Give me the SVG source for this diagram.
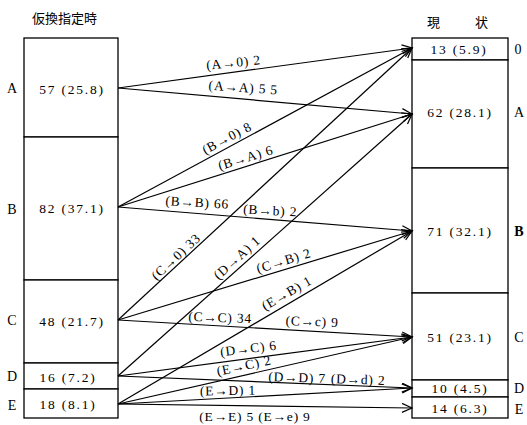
<svg xmlns="http://www.w3.org/2000/svg" width="527" height="425" viewBox="0 0 527 425">
<style>
.box{fill:#fff;stroke:#000;stroke-width:1.3}
.val{font-family:"Liberation Serif",serif;font-size:13.5px;letter-spacing:1.8px;text-anchor:middle;fill:#000}
.lab{font-family:"Liberation Serif",serif;font-size:14px;text-anchor:middle;fill:#000}
.hdr{font-family:"Noto Sans CJK JP",sans-serif;font-size:13px;fill:#000}
.cn{stroke:#000;stroke-width:1.2;fill:none;marker-end:url(#ah)}
.cl{font-family:"Liberation Serif",serif;font-size:13.5px;letter-spacing:0.8px;fill:#000;text-anchor:middle}
</style>
<defs>
<marker id="ah" markerUnits="userSpaceOnUse" markerWidth="14" markerHeight="12" refX="11" refY="5" orient="auto">
<path d="M1,0.5 L11,5 L1,9.5" fill="none" stroke="#000" stroke-width="1.2"/>
</marker>
</defs>
<rect width="527" height="425" fill="#fff"/>
<text class="hdr" x="32" y="23">仮換指定時</text>
<text class="hdr" x="427" y="27" font-size="14" letter-spacing="3">現　　状</text>

<g id="left-A"><rect class="box" x="24" y="38" width="94" height="99"/><text class="lab" x="12" y="93">A</text><text class="val" x="72" y="93.5">57 (25.8)</text></g>
<g id="left-B"><rect class="box" x="24" y="137" width="94" height="143"/><text class="lab" x="12" y="214">B</text><text class="val" x="72" y="212.5">82 (37.1)</text></g>
<g id="left-C"><rect class="box" x="24" y="280" width="94" height="83"/><text class="lab" x="12" y="325">C</text><text class="val" x="72" y="325.5">48 (21.7)</text></g>
<g id="left-D"><rect class="box" x="24" y="363" width="94" height="26"/><text class="lab" x="12" y="381">D</text><text class="val" x="68" y="381.5">16 (7.2)</text></g>
<g id="left-E"><rect class="box" x="24" y="389" width="94" height="29"/><text class="lab" x="12" y="410">E</text><text class="val" x="68" y="409">18 (8.1)</text></g>

<g id="right-0"><rect class="box" x="412" y="38" width="96" height="22"/><text class="lab" x="518" y="54">0</text><text class="val" x="459" y="54">13 (5.9)</text></g>
<g id="right-A"><rect class="box" x="412" y="60" width="96" height="108"/><text class="lab" x="519" y="117">A</text><text class="val" x="460" y="116.5">62 (28.1)</text></g>
<g id="right-B"><rect class="box" x="412" y="168" width="96" height="125"/><text class="lab" x="519" y="236" font-weight="bold">B</text><text class="val" x="460" y="235.5">71 (32.1)</text></g>
<g id="right-C"><rect class="box" x="412" y="293" width="96" height="87"/><text class="lab" x="519" y="342">C</text><text class="val" x="460" y="341.5">51 (23.1)</text></g>
<g id="right-D"><rect class="box" x="412" y="380" width="96" height="17"/><text class="lab" x="519" y="393">D</text><text class="val" x="460" y="393">10 (4.5)</text></g>
<g id="right-E"><rect class="box" x="412" y="397" width="96" height="21"/><text class="lab" x="519" y="414">E</text><text class="val" x="460" y="412.5">14 (6.3)</text></g>

<g id="connectors">
<line class="cn" x1="118" y1="88" x2="412" y2="48"/>
<line class="cn" x1="118" y1="88" x2="412" y2="114"/>
<line class="cn" x1="118" y1="207" x2="412" y2="48"/>
<line class="cn" x1="118" y1="207" x2="412" y2="114"/>
<line class="cn" x1="118" y1="207" x2="412" y2="231"/>
<line class="cn" x1="118" y1="320" x2="412" y2="48"/>
<line class="cn" x1="118" y1="320" x2="412" y2="231"/>
<line class="cn" x1="118" y1="320" x2="412" y2="337"/>
<line class="cn" x1="118" y1="376" x2="412" y2="114"/>
<line class="cn" x1="118" y1="376" x2="412" y2="337"/>
<line class="cn" x1="118" y1="376" x2="412" y2="388"/>
<line class="cn" x1="118" y1="404" x2="412" y2="231"/>
<line class="cn" x1="118" y1="404" x2="412" y2="337"/>
<line class="cn" x1="118" y1="404" x2="412" y2="388"/>
<line class="cn" x1="118" y1="404" x2="412" y2="408"/>

<text class="cl" transform="translate(234,67) rotate(-6)">(A→0)  2</text>
<text class="cl" transform="translate(243,92) rotate(4)">(A→A)  5 5</text>
<text class="cl" transform="translate(229,142) rotate(-28)">(B→0)  8</text>
<text class="cl" transform="translate(247,162) rotate(-17)">(B→A)  6</text>
<text class="cl" transform="translate(197,207) rotate(3)">(B→B)  66</text>
<text class="cl" transform="translate(270,215) rotate(3)">(B→b) 2</text>
<text class="cl" transform="translate(179,260) rotate(-43)">(C→0)  33</text>
<text class="cl" transform="translate(240,261) rotate(-42)">(D→A)  1</text>
<text class="cl" transform="translate(285,265) rotate(-17)">(C→B)  2</text>
<text class="cl" transform="translate(289,297) rotate(-30)">(E→B)  1</text>
<text class="cl" transform="translate(220,322) rotate(2)">(C→C) 34</text>
<text class="cl" transform="translate(312,326) rotate(2)">(C→c)  9</text>
<text class="cl" transform="translate(249,353) rotate(-7)">(D→C)  6</text>
<text class="cl" transform="translate(245,370) rotate(-12)">(E→C) 2</text>
<text class="cl" transform="translate(297,382) rotate(2)">(D→D) 7</text>
<text class="cl" transform="translate(358,384) rotate(2)">(D→d) 2</text>
<text class="cl" transform="translate(228,395) rotate(-1)">(E→D) 1</text>
<text class="cl" x="255" y="421">(E→E)  5   (E→e)  9</text>
</g>
</svg>
